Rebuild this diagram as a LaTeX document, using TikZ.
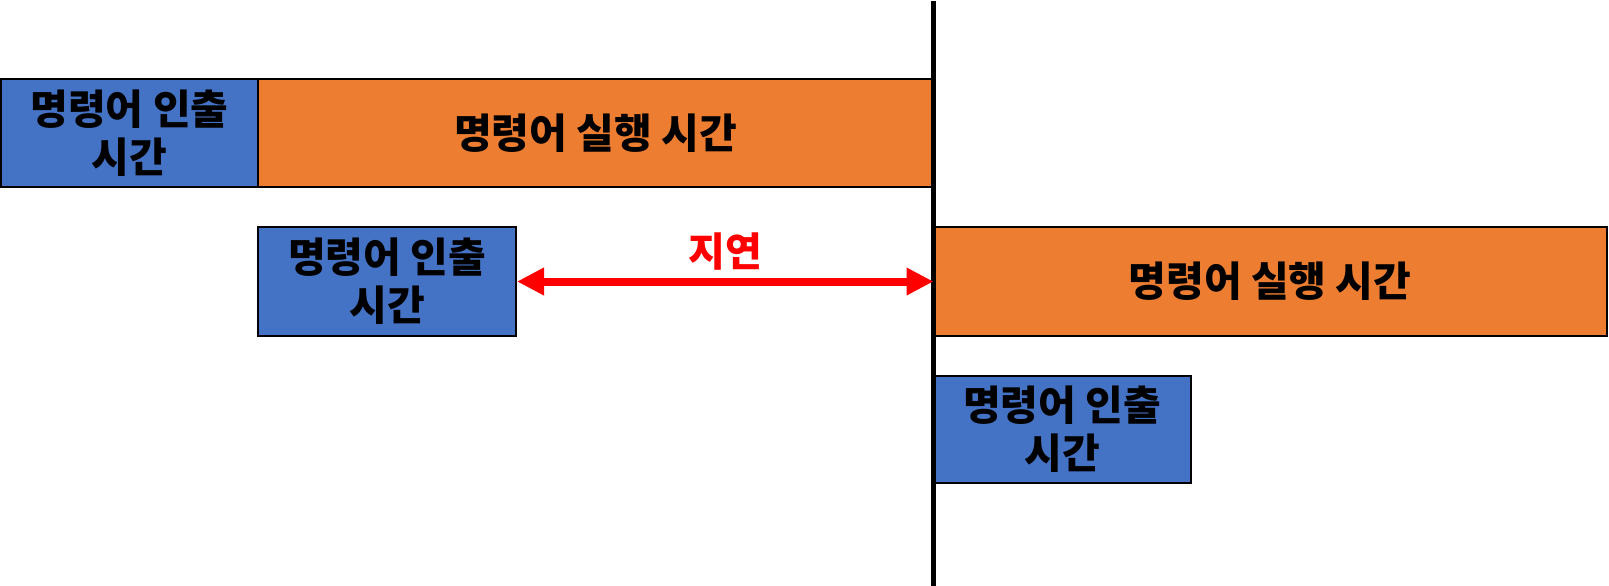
\documentclass[tikz,border=0pt]{standalone}
\usepackage{fontspec}
\setmainfont{Noto Sans CJK KR}
\usetikzlibrary{arrows.meta}
\definecolor{fetchblue}{HTML}{4472C4}
\definecolor{execorange}{HTML}{ED7D31}
\tikzset{
  stage/.style={draw=black, line width=2pt, inner sep=0pt, align=center,
    font=\fontsize{41pt}{48pt}\selectfont\bfseries, text=black},
  fetchbox/.style={stage, fill=fetchblue},
  execbox/.style={stage, fill=execorange},
  delay/.style={draw=red, line width=8pt, {Triangle[length=27pt,width=26pt]}-{Triangle[length=27pt,width=26pt]}},
}
\begin{document}
\begin{tikzpicture}[x=1pt, y=-1pt]
\useasboundingbox (0,0) rectangle (1609,586);
% row 1
\node[fetchbox, minimum width=257pt, minimum height=108pt] (f1) at (129.5,133) {명령어 인출\\시간};
\node[execbox, minimum width=675pt, minimum height=108pt] (e1) at (595.5,133) {명령어 실행 시간};
% row 2
\node[fetchbox, minimum width=258pt, minimum height=109pt] (f2) at (387,281.5) {명령어 인출\\시간};
\node[execbox, minimum width=674pt, minimum height=109pt] (e2) at (1270,281.5) {명령어 실행 시간};
% row 3
\node[fetchbox, minimum width=258pt, minimum height=107pt] (f3) at (1062,429.5) {명령어 인출\\시간};
% vertical boundary line
\coordinate (vtop) at (933.5,1);
\coordinate (vbot) at (933.5,586);
\draw[line width=5pt] (vtop) -- (vbot);
% delay arrow
\draw[delay] (f2.east) -- (e2.west -| vtop) node[midway, above=4pt, text=red, font=\fontsize{40pt}{44pt}\selectfont\bfseries] (dl) {지연};
\end{tikzpicture}
\end{document}
